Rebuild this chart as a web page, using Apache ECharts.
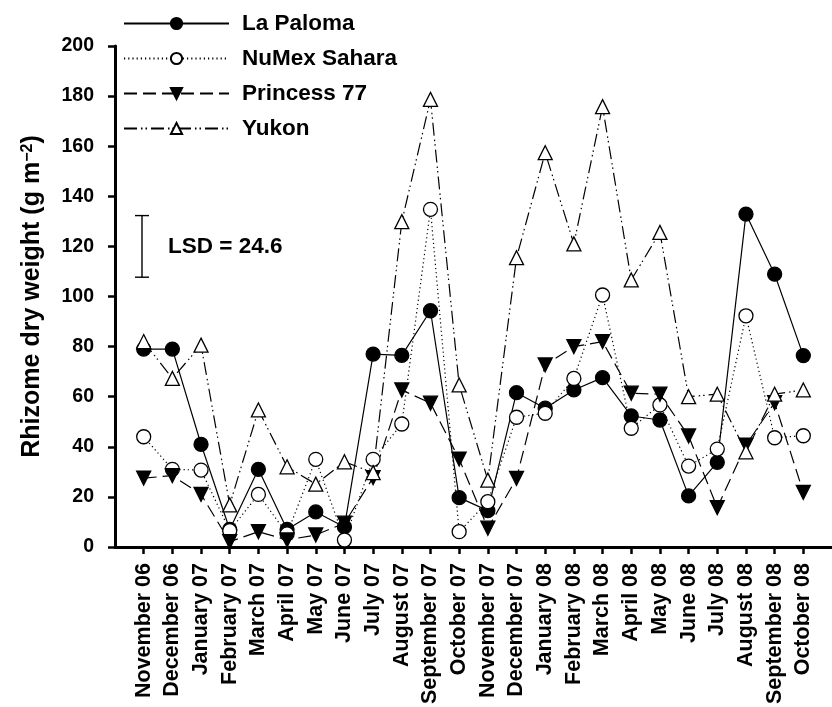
<!DOCTYPE html>
<html>
<head>
<meta charset="utf-8">
<script src="https://cdn.jsdelivr.net/npm/echarts@6/dist/echarts.min.js"></script>
<style>
  html, body { margin: 0; padding: 0; background: #fff; }
  #chart { width: 832px; height: 707px; }
</style>
</head>
<body>
<div id="chart"></div>
<script>
const months = ['November 06', 'December 06', 'January 07', 'February 07', 'March 07', 'April 07',
  'May 07', 'June 07', 'July 07', 'August 07', 'September 07', 'October 07', 'November 07',
  'December 07', 'January 08', 'February 08', 'March 08', 'April 08', 'May 08', 'June 08',
  'July 08', 'August 08', 'September 08', 'October 08'];

const laPaloma = [79, 79, 41, 7, 31, 7, 14, 8, 77, 76.5, 94.3, 19.7, 14.5, 61.6, 55.4, 62.7, 67.6, 52.3, 50.7, 20.4, 33.8, 132.9, 108.9, 76.4];
const numexSahara = [44, 31, 30.7, 6.5, 21, 5.2, 35, 2.8, 35, 49.1, 134.8, 6.1, 18.1, 51.8, 53.4, 67.3, 100.6, 47.4, 56.7, 32.3, 39.1, 92.3, 43.6, 44.4];
const princess77 = [27.5, 28.5, 21, 2.1, 6.1, 2.8, 4.8, 9.5, 27.7, 62.7, 57.4, 35.1, 7.5, 27.4, 72.7, 80, 82, 61.4, 61, 44.3, 15.7, 40.7, 57.6, 21.8];
const yukon = [82, 67.3, 80.6, 16.8, 54.7, 32, 25.1, 34, 29.7, 129.9, 178.7, 64.7, 26.7, 115.5, 157.4, 121, 175.8, 106.6, 125.6, 60, 61, 38, 61, 62.7];

const lsd = 24.6;
const lsdCenter = 120;

const font = '"Liberation Sans", Arial, sans-serif';
const monthIdx = months.map((m, i) => i);

function lineSeries(name, values, symbol, fill, dash, rotate) {
  return {
    name: name,
    type: 'line',
    data: values.map((v, i) => [i, v]),
    symbol: symbol,
    symbolSize: 14,
    symbolRotate: rotate || 0,
    itemStyle: { color: fill, borderColor: '#000', borderWidth: 1.3 },
    lineStyle: { color: '#000', width: 1.2, type: dash },
    emphasis: { disabled: true },
    animation: false
  };
}

const chart = echarts.init(document.getElementById('chart'));
chart.setOption({
  animation: false,
  textStyle: { fontFamily: font },
  legend: {
    orient: 'vertical',
    left: 118,
    top: 7,
    itemWidth: 105,
    itemHeight: 14,
    itemGap: 12,
    data: ['La Paloma', 'NuMex Sahara', 'Princess 77', 'Yukon'],
    textStyle: { fontSize: 22.5, fontWeight: 'bold', color: '#000', fontFamily: font, lineHeight: 20, padding: [0, 0, 0, 8] }
  },
  grid: { left: 115, right: 0, top: 46, bottom: 160 },
  xAxis: {
    type: 'value',
    min: -1,
    max: 24,
    interval: 1,
    splitLine: { show: false },
    axisLine: { lineStyle: { color: '#000', width: 3 } },
    axisTick: { customValues: monthIdx, length: 7, lineStyle: { color: '#000', width: 2.5 } },
    axisLabel: {
      customValues: monthIdx,
      formatter: v => months[v],
      rotate: 90,
      margin: 16,
      fontSize: 21.5,
      fontWeight: 'bold',
      color: '#000',
      fontFamily: font
    }
  },
  yAxis: {
    type: 'value',
    min: 0,
    max: 200,
    interval: 20,
    splitLine: { show: false },
    axisLine: { show: true, onZero: false, lineStyle: { color: '#000', width: 3 } },
    axisTick: { show: true, length: 7, lineStyle: { color: '#000', width: 2.5 } },
    axisLabel: { margin: 21, fontSize: 19.5, fontWeight: 'bold', color: '#000', fontFamily: font },
    name: '{a|Rhizome dry weight (g m}{s|\u22122}{a|)}',
    nameLocation: 'middle',
    nameRotate: 90,
    nameGap: 70,
    nameTextStyle: {
      rich: {
        a: { fontSize: 25, fontWeight: 'bold', color: '#000', fontFamily: font },
        s: { fontSize: 16, fontWeight: 'bold', color: '#000', fontFamily: font, verticalAlign: 'top' }
      }
    }
  },
  series: [
    lineSeries('La Paloma', laPaloma, 'circle', '#000', 'solid'),
    lineSeries('NuMex Sahara', numexSahara, 'circle', '#fff', [1.2, 3]),
    lineSeries('Princess 77', princess77, 'triangle', '#000', [13, 6], 180),
    lineSeries('Yukon', yukon, 'triangle', '#fff', [13, 4, 1.5, 3, 1.5, 4]),
    {
      // LSD error bar
      type: 'custom',
      data: [[0, lsdCenter - lsd / 2, lsdCenter + lsd / 2]],
      encode: { x: 0, y: [1, 2] },
      silent: true,
      clip: false,
      z: 5,
      renderItem: function (params, api) {
        const lo = api.coord([api.value(0), api.value(1)]);
        const hi = api.coord([api.value(0), api.value(2)]);
        const x = Math.round(lo[0] - 1.5);
        const cap = 7;
        const w = 1.4;
        const fill = { fill: '#000' };
        return {
          type: 'group',
          children: [
            { type: 'rect', shape: { x: x - w / 2, y: hi[1], width: w, height: lo[1] - hi[1] }, style: fill },
            { type: 'rect', shape: { x: x - cap, y: lo[1] - w / 2, width: cap * 2, height: w }, style: fill },
            { type: 'rect', shape: { x: x - cap, y: hi[1] - w / 2, width: cap * 2, height: w }, style: fill },
            {
              type: 'text',
              style: {
                text: 'LSD = ' + lsd,
                x: x + 26,
                y: (lo[1] + hi[1]) / 2,
                verticalAlign: 'middle',
                font: 'bold 22.5px ' + font,
                fill: '#000'
              }
            }
          ]
        };
      }
    }
  ]
});
window.addEventListener('resize', () => chart.resize());
</script>
</body>
</html>
